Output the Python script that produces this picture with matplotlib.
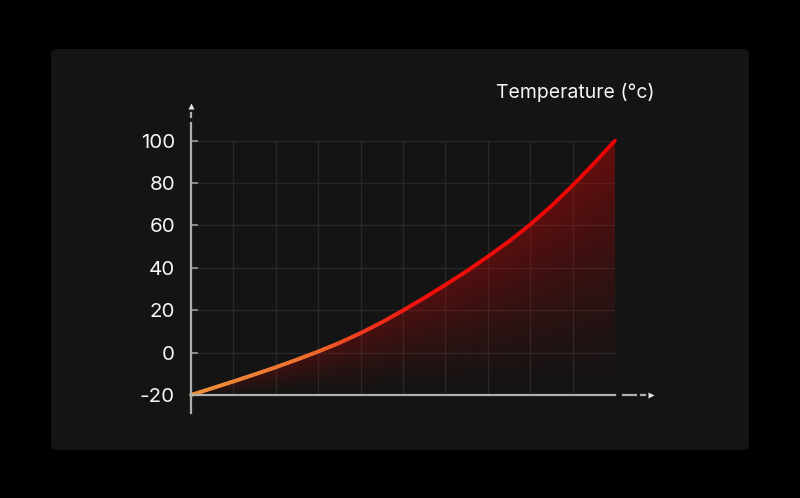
import numpy as np
import matplotlib
matplotlib.use("Agg")
import matplotlib.pyplot as plt
from matplotlib.collections import LineCollection
from matplotlib.patches import FancyBboxPatch

# ---- data ----
x_vals = [0, 0.5, 1, 1.5, 2, 2.5, 3, 3.5, 4, 4.5, 5, 5.5, 6, 6.5, 7, 7.5, 8, 8.5, 9, 9.5, 10]
temps = [-20, -16.8, -13.6, -10.3, -6.9, -3.3, 0.5, 4.6, 9.2, 14.3, 19.9,
         25.8, 32.0, 38.4, 45.3, 52.5, 60.4, 69.2, 78.9, 89.2, 100]
y_ticks = [-20, 0, 20, 40, 60, 80, 100]
y_tick_labels = ["-20", "0", "20", "40", "60", "80", "100"]
x_grid = list(range(0, 11))
title = "Temperature (°c)"

W, H = 800, 498
fig = plt.figure(figsize=(W / 100, H / 100), dpi=100)
fig.patch.set_facecolor("#000000")

# rounded panel
panel = FancyBboxPatch((51 / W, 1 - 450 / H), (749 - 51) / W, (450 - 49) / H,
                       boxstyle="round,pad=0,rounding_size=0.01",
                       transform=fig.transFigure, facecolor="#141414",
                       edgecolor="none", zorder=-10)
fig.patches.append(panel)

left, right = 191 / W, 615 / W
bottom, top = 1 - 395 / H, 1 - 140.7 / H
ax = fig.add_axes([left, bottom, right - left, top - bottom])
ax.set_zorder(5)
ax.set_facecolor("none")
ax.set_xlim(0, 10)
ax.set_ylim(-20, 100)
for s in ax.spines.values():
    s.set_visible(False)

# grid
grid_c = "#282828"
for gx in x_grid:
    ax.axvline(gx, color=grid_c, lw=1, zorder=1)
for gy in y_ticks:
    ax.axhline(gy, color=grid_c, lw=1, zorder=1)

ax.set_xticks([])
ax.set_yticks(y_ticks)
ax.set_yticklabels(y_tick_labels)
ax.tick_params(axis="y", direction="in", length=5, width=1.2, color="#9a9a9a",
               pad=11.5, labelsize=14.8, labelcolor="#f5f5f5")
for lab in ax.get_yticklabels():
    lab.set_fontfamily("Inter")

xs = np.array(x_vals, dtype=float)
ys = np.array(temps, dtype=float)

# gradient fill under curve
poly = ax.fill_between(xs, -20, ys, facecolor="none", edgecolor="none")
nx, ny = 600, 400
gx = np.linspace(0, 10, nx)
gy = np.linspace(-20, 100, ny)
GX, GY = np.meshgrid(gx, gy)
fx = np.interp(GX, xs, ys)
t = np.clip((GY + 20) / (fx + 20 + 1e-9), 0, 1)
w = 0.45 + 0.55 * (GX / 10)
alpha = 0.45 * t ** 1.3 * w
img = np.zeros((ny, nx, 4))
img[..., 0] = 200 / 255
img[..., 1] = 6 / 255
img[..., 2] = 6 / 255
img[..., 3] = alpha
im = ax.imshow(img, extent=[0, 10, -20, 100], origin="lower", aspect="auto",
               interpolation="bilinear", zorder=2)
im.set_clip_path(poly.get_paths()[0], transform=ax.transData)

# gradient line
stops = [0.0, 0.28, 0.42, 0.55, 1.0]
cols = np.array([[234, 146, 62], [238, 110, 46], [240, 52, 28], [238, 16, 10], [232, 4, 4]]) / 255
segs, segc = [], []
sub = 12
for i in range(len(xs) - 1):
    for k in range(sub):
        a, b = k / sub, (k + 1) / sub
        p0 = (xs[i] + (xs[i + 1] - xs[i]) * a, ys[i] + (ys[i + 1] - ys[i]) * a)
        p1 = (xs[i] + (xs[i + 1] - xs[i]) * b, ys[i] + (ys[i + 1] - ys[i]) * b)
        segs.append([p0, p1])
        fr = (p0[0] + p1[0]) / 2 / 10
        segc.append([np.interp(fr, stops, cols[:, j]) for j in range(3)])
lc = LineCollection(segs, colors=segc, linewidths=2.7, capstyle="round",
                    joinstyle="round", zorder=4, clip_on=False)
ax.add_collection(lc)

# axis lines with dashed extensions and arrows
ac = "#b0b0b0"
T = ax.transAxes
hpx = 395 - 140.7
wpx = 615 - 191
# y axis
ax.plot([0, 0], [-18 / hpx, 1.0], color=ac, lw=1.6, transform=T, clip_on=False, zorder=5)
ax.plot([0, 0], [1 + 1.5 / hpx, 1 + 18 / hpx], color=ac, lw=1.6, transform=T, clip_on=False, zorder=5)
ax.plot([0, 0], [1 + 24 / hpx, 1 + 28 / hpx], color=ac, lw=1.6, transform=T, clip_on=False, zorder=5)
ax.plot([0], [1 + 35 / hpx], marker="^", ms=4.5, color="#e6e6e6", mec="none",
        transform=T, clip_on=False, zorder=5)
# x axis
ax.plot([0, 1.0], [0, 0], color=ac, lw=1.6, transform=T, clip_on=False, zorder=5)
ax.plot([1 + 8 / wpx, 1 + 21 / wpx], [0, 0], color=ac, lw=1.6, transform=T, clip_on=False, zorder=5)
ax.plot([1 + 26 / wpx, 1 + 30 / wpx], [0, 0], color=ac, lw=1.6, transform=T, clip_on=False, zorder=5)
ax.plot([1 + 36 / wpx], [0], marker=">", ms=4.5, color="#e6e6e6", mec="none",
        transform=T, clip_on=False, zorder=5)

fig.text(655 / W, 1 - 93 / H, title, ha="right", va="center", color="#f5f5f5",
         fontsize=14, fontfamily="Inter")

fig.savefig("out.png", dpi=100, facecolor=fig.get_facecolor())
